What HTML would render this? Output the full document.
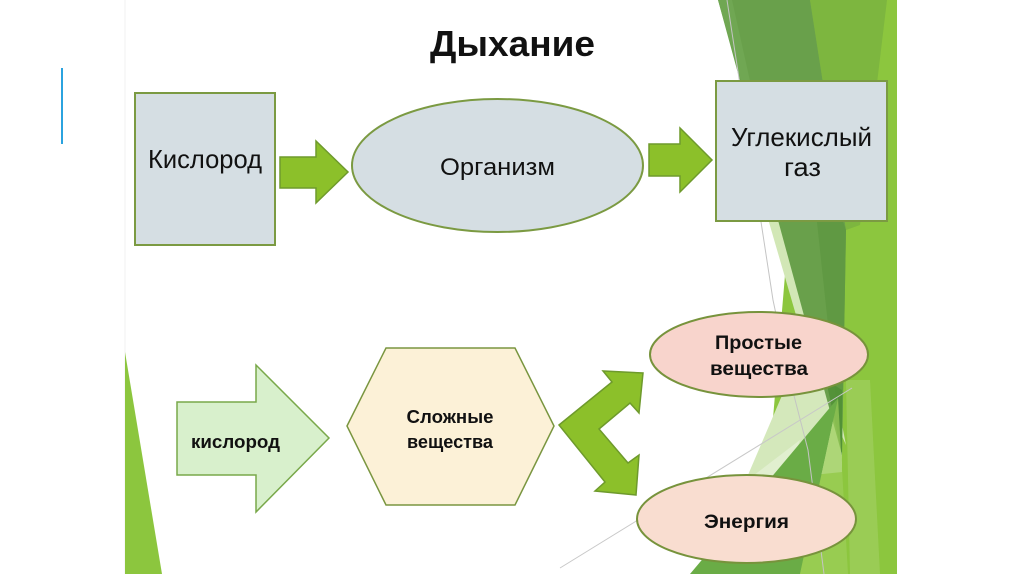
<!DOCTYPE html>
<html><head><meta charset="utf-8">
<style>
html,body{margin:0;padding:0;background:#fff;}
svg{display:block;}
text{font-family:"Liberation Sans","DejaVu Sans",sans-serif;fill:#111;}
</style></head>
<body>
<svg width="1024" height="574" viewBox="0 0 1024 574" xmlns="http://www.w3.org/2000/svg">
<rect x="0" y="0" width="1024" height="574" fill="#fff"/>
<!-- slide faint border -->
<line x1="125" y1="0" x2="125" y2="574" stroke="#f0f0f0" stroke-width="1"/>
<!-- blue line -->
<line x1="62" y1="68" x2="62" y2="144" stroke="#2ba3df" stroke-width="2"/>

<!-- right green decoration -->
<polygon points="808,0 897,0 897,574 760,574" fill="#8cc63e"/>
<polygon points="846,380 870,380 880,574 850,574" fill="#a3d166" opacity="0.6"/>
<polygon points="810,0 887,0 860,225 846,230" fill="#7db63f"/>
<!-- upper pale sliver -->
<polygon points="766,212 800,212 846,445 812,370" fill="#d2e7b6"/>
<!-- lower pale region -->
<polygon points="792,372 840,390 842,472 745,482" fill="#d4e8bb"/>
<polygon points="745,482 800,440 760,560 715,574" fill="#e4f0d4" opacity="0.8"/>
<!-- dark triangle -->
<polygon points="718,0 810,0 846,230 842,455" fill="#69a04b"/>
<polygon points="718,0 732,0 782,225" fill="#72a955" opacity="0.8"/>
<polygon points="806,120 846,230 842,455" fill="#5e9741" opacity="0.8"/>
<polygon points="826,380 842,390 842,455" fill="#4f8f35" opacity="0.8"/>
<!-- lower medium -->
<polygon points="690,574 838,398 800,574" fill="#6aac46"/>
<polygon points="800,574 838,398 848,574" fill="#9ccf5a" opacity="0.7"/>
<!-- thin gray lines -->
<polyline points="727,0 773,300 790,380 808,450 824,574" fill="none" stroke="#c4c4c4" stroke-width="1"/>
<line x1="560" y1="568" x2="852" y2="388" stroke="#c8c8c8" stroke-width="1"/>

<!-- left bottom green triangle -->
<polygon points="125,352 125,574 162,574" fill="#8cc63e"/>

<!-- Title -->
<text x="430" y="56" font-size="36" font-weight="bold" textLength="165" lengthAdjust="spacingAndGlyphs">Дыхание</text>

<!-- Top row -->
<rect x="135" y="93" width="140" height="152" fill="#d5dee3" stroke="#7b9a42" stroke-width="2"/>
<text x="148" y="168" font-size="26" textLength="114" lengthAdjust="spacingAndGlyphs">Кислород</text>

<polygon points="280,157 316,157 316,141 348,172 316,203 316,188 280,188" fill="#8cc02a" stroke="#6e9a2c" stroke-width="1.5"/>

<ellipse cx="497.5" cy="165.5" rx="145.5" ry="66.5" fill="#d5dee3" stroke="#7b9a42" stroke-width="2"/>
<text x="440" y="175" font-size="24" textLength="115" lengthAdjust="spacingAndGlyphs">Организм</text>

<polygon points="649,144 680,144 680,128 712,160 680,192 680,176 649,176" fill="#8cc02a" stroke="#6e9a2c" stroke-width="1.5"/>

<rect x="716" y="81" width="171" height="140" fill="#d5dee3" stroke="#7b9a42" stroke-width="2"/>
<text x="731" y="146" font-size="26" textLength="141" lengthAdjust="spacingAndGlyphs">Углекислый</text>
<text x="784" y="176" font-size="26" textLength="37" lengthAdjust="spacingAndGlyphs">газ</text>

<!-- Bottom row -->
<polygon points="177,402 256,402 256,365 329,438 256,512 256,475 177,475" fill="#d8f0cc" stroke="#79a84a" stroke-width="1.5"/>
<text x="191" y="448" font-size="18.6" font-weight="bold" textLength="89" lengthAdjust="spacingAndGlyphs">кислород</text>

<polygon points="347,426 386,348 515,348 554,426 515,505 386,505" fill="#fcf1d7" stroke="#7a9640" stroke-width="1.5"/>
<text x="450" y="423" font-size="18.6" font-weight="bold" text-anchor="middle" textLength="87" lengthAdjust="spacingAndGlyphs">Сложные</text>
<text x="450" y="448" font-size="18.6" font-weight="bold" text-anchor="middle" textLength="86" lengthAdjust="spacingAndGlyphs">вещества</text>

<polygon points="559,425 612,382 603,371 643,373 639,413 630,403 599,429 628,463 639,455 636,495 595,491 605,482" fill="#8cc02a" stroke="#6e9a2c" stroke-width="1.5" stroke-linejoin="miter"/>

<ellipse cx="759" cy="354.5" rx="109" ry="42.5" fill="#f8d4cc" stroke="#77933c" stroke-width="2"/>
<text x="758.5" y="349" font-size="19.5" font-weight="bold" text-anchor="middle" textLength="87" lengthAdjust="spacingAndGlyphs">Простые</text>
<text x="759" y="375" font-size="19.5" font-weight="bold" text-anchor="middle" textLength="98" lengthAdjust="spacingAndGlyphs">вещества</text>

<ellipse cx="746.5" cy="519" rx="109.5" ry="44" fill="#f9ddd0" stroke="#77933c" stroke-width="2"/>
<text x="746.5" y="528" font-size="19.5" font-weight="bold" text-anchor="middle" textLength="85" lengthAdjust="spacingAndGlyphs">Энергия</text>
</svg>
</body></html>
